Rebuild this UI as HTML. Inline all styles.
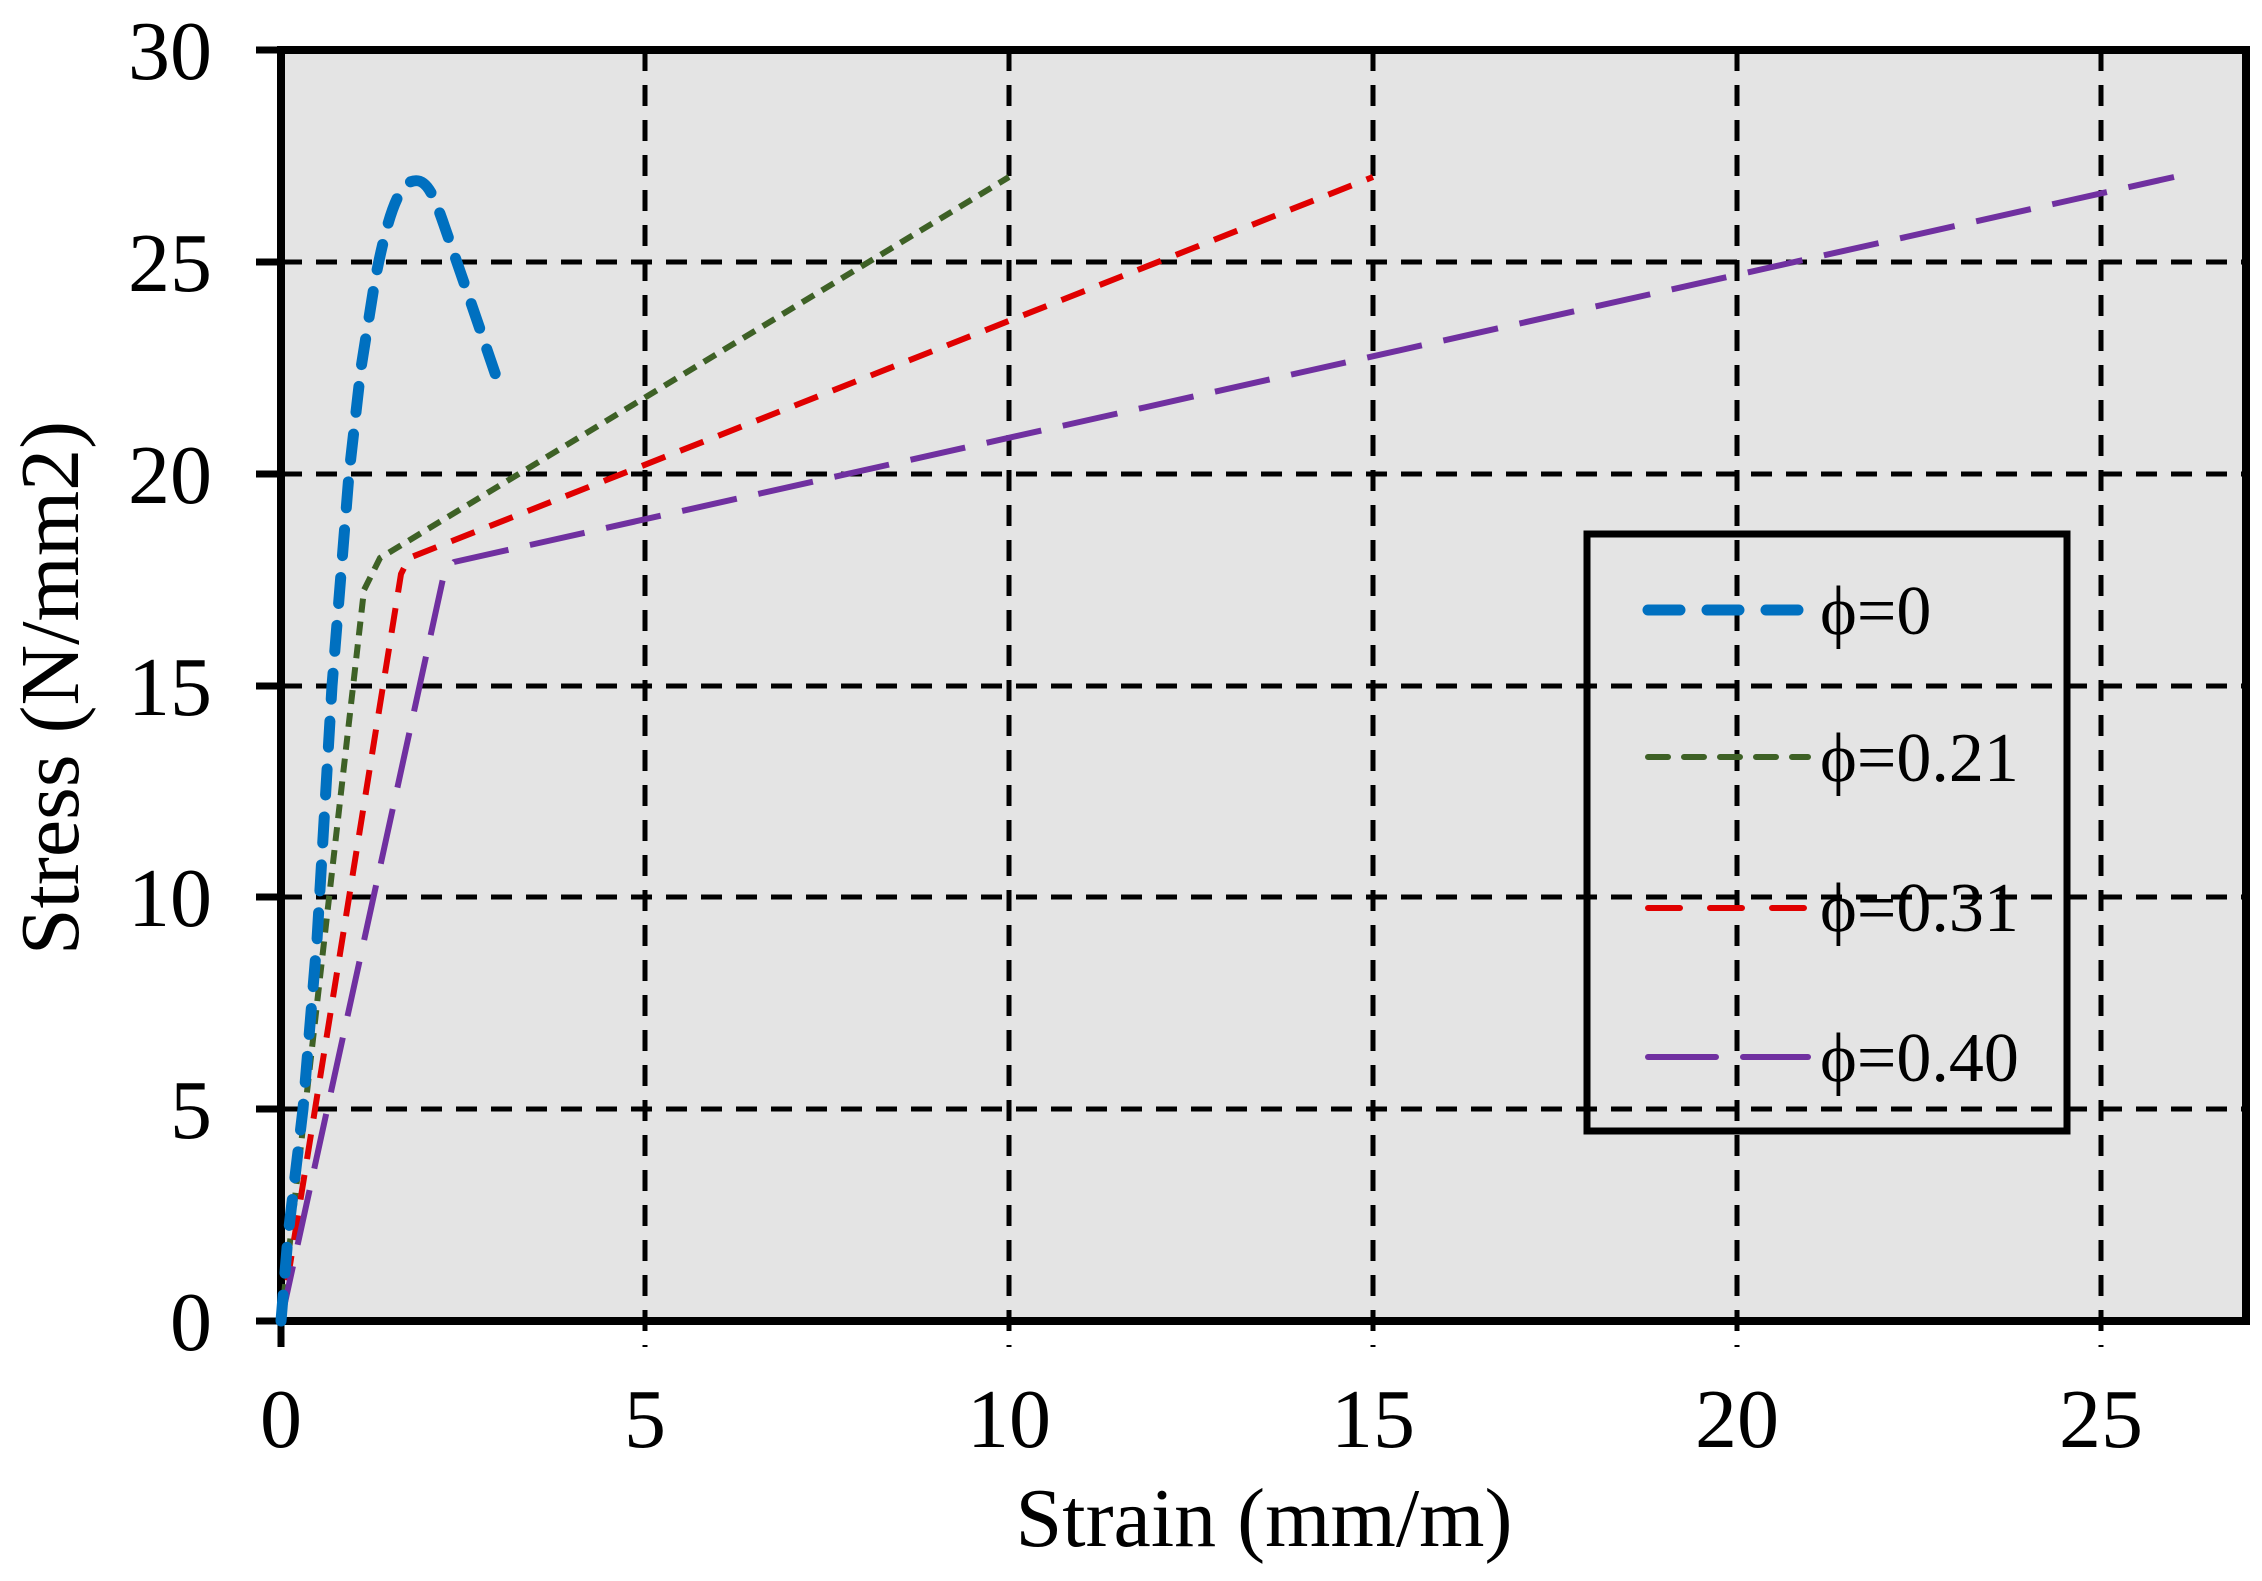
<!DOCTYPE html>
<html><head><meta charset="utf-8"><style>
html,body{margin:0;padding:0;background:#fff;}
svg{display:block;font-family:"Liberation Serif",serif;}
</style></head><body>
<svg width="2262" height="1581" viewBox="0 0 2262 1581" xmlns="http://www.w3.org/2000/svg">
<rect x="281" y="50" width="1965" height="1271" fill="#e4e4e4"/>
<g stroke="#000" stroke-width="5" stroke-dasharray="21 14" fill="none">
<line x1="281" y1="262" x2="2246" y2="262"/>
<line x1="281" y1="474" x2="2246" y2="474"/>
<line x1="281" y1="686" x2="2246" y2="686"/>
<line x1="281" y1="897" x2="2246" y2="897"/>
<line x1="281" y1="1109" x2="2246" y2="1109"/>
<line x1="645" y1="50" x2="645" y2="1347"/>
<line x1="1009" y1="50" x2="1009" y2="1347"/>
<line x1="1373" y1="50" x2="1373" y2="1347"/>
<line x1="1737" y1="50" x2="1737" y2="1347"/>
<line x1="2101" y1="50" x2="2101" y2="1347"/>
</g>
<g stroke="#000" stroke-width="7">
<line x1="256" y1="50" x2="281" y2="50"/><line x1="256" y1="262" x2="281" y2="262"/>
<line x1="256" y1="474" x2="281" y2="474"/><line x1="256" y1="686" x2="281" y2="686"/>
<line x1="256" y1="897" x2="281" y2="897"/><line x1="256" y1="1109" x2="281" y2="1109"/>
<line x1="256" y1="1321" x2="281" y2="1321"/>
<line x1="281" y1="1321" x2="281" y2="1347"/>
</g>
<rect x="281" y="50" width="1965" height="1271" fill="none" stroke="#000" stroke-width="8"/>
<polyline fill="none" stroke="#3e6126" stroke-width="6" stroke-linejoin="round" stroke-dasharray="14 9" points="281,1321 364,590 380,558 1009,177"/>
<polyline fill="none" stroke="#e00000" stroke-width="6" stroke-linejoin="round" stroke-dasharray="25 16" points="281,1321 401,574 409,558 1373,177"/>
<polyline fill="none" stroke="#7030a0" stroke-width="6" stroke-linejoin="round" stroke-dasharray="56 22" points="281,1321 444,574 454,562 2174,177"/>
<path fill="none" stroke="#0070c0" stroke-width="11" stroke-linecap="round" stroke-dasharray="26 22" d="M281,1321 L288,1236 303,1109 317,940 332,686 349,474 361,368 375,280 C385,230 395,190 410,182 C425,176 432,190 444,225 L470,300 496,376"/>
<rect x="1587" y="534" width="480" height="597" fill="none" stroke="#000" stroke-width="7"/>
<line x1="1648" y1="610" x2="1805" y2="610" stroke="#0070c0" stroke-width="11" stroke-linecap="round" stroke-dasharray="32 27"/>
<line x1="1648" y1="757" x2="1808" y2="757" stroke="#3e6126" stroke-width="6" stroke-linecap="round" stroke-dasharray="20 16"/>
<line x1="1648" y1="908" x2="1808" y2="908" stroke="#e00000" stroke-width="6" stroke-linecap="round" stroke-dasharray="32 30"/>
<line x1="1648" y1="1057" x2="1808" y2="1057" stroke="#7030a0" stroke-width="6" stroke-linecap="round" stroke-dasharray="68 27"/>
<g font-size="70" fill="#000">
<text x="1820" y="634">ϕ=0</text>
<text x="1820" y="781">ϕ=0.21</text>
<text x="1820" y="931">ϕ=0.31</text>
<text x="1820" y="1081">ϕ=0.40</text>
</g>
<g font-size="84" fill="#000" text-anchor="end">
<text x="212" y="79">30</text><text x="212" y="291">25</text><text x="212" y="503">20</text>
<text x="212" y="715">15</text><text x="212" y="926">10</text><text x="212" y="1138">5</text>
<text x="212" y="1350">0</text>
</g>
<g font-size="84" fill="#000" text-anchor="middle">
<text x="281" y="1447">0</text><text x="645" y="1447">5</text><text x="1009" y="1447">10</text>
<text x="1373" y="1447">15</text><text x="1737" y="1447">20</text><text x="2101" y="1447">25</text>
<text x="1264" y="1546">Strain (mm/m)</text>
<text transform="translate(78,688) rotate(-90)">Stress (N/mm2)</text>
</g>
</svg>
</body></html>
